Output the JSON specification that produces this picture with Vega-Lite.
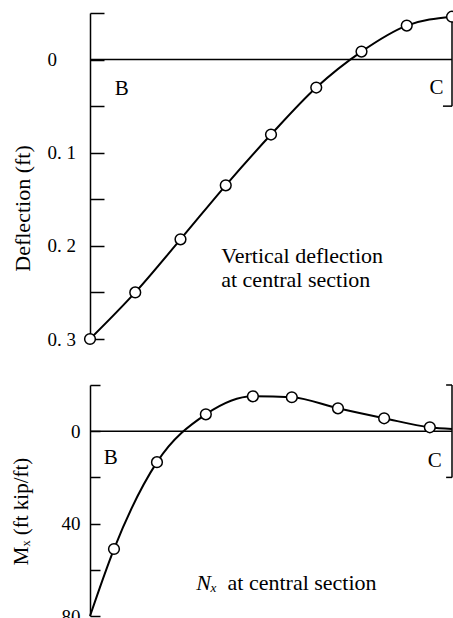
{
  "$schema": "https://vega.github.io/schema/vega-lite/v6.json",
  "background": "white",
  "padding": {"left": 9, "top": 4, "right": -6, "bottom": 0},
  "bounds": "flush",
  "spacing": 46,
  "config": {"view": {"stroke": null}, "font": "Liberation Serif"},
  "datasets": {
    "deflection": [
      {"x": 0, "y": 0.3},
      {"x": 1, "y": 0.25},
      {"x": 2, "y": 0.193},
      {"x": 3, "y": 0.135},
      {"x": 4, "y": 0.0805},
      {"x": 5, "y": 0.03},
      {"x": 6, "y": -0.0086},
      {"x": 7, "y": -0.0365},
      {"x": 8, "y": -0.046}
    ],
    "moment": [
      {"x": 0, "y": 80},
      {"x": 0.53, "y": 51},
      {"x": 1.48, "y": 13.4},
      {"x": 2.56, "y": -7.3},
      {"x": 3.6, "y": -15.1},
      {"x": 4.46, "y": -14.7},
      {"x": 5.48, "y": -9.9},
      {"x": 6.5, "y": -5.6},
      {"x": 7.51, "y": -1.7},
      {"x": 8, "y": -0.9}
    ]
  },
  "vconcat": [
    {
      "width": 362,
      "height": 326,
      "layer": [
        {
          "data": {"values": [{}]},
          "mark": {"type": "rule", "color": "black", "strokeWidth": 1.5},
          "encoding": {"y": {"datum": 0, "type": "quantitative"}}
        },
        {
          "data": {"values": [{}]},
          "mark": {"type": "rule", "color": "black", "strokeWidth": 1.5},
          "encoding": {
            "x": {"datum": 8, "type": "quantitative", "axis": null},
            "y": {"datum": -0.05, "type": "quantitative"},
            "y2": {"datum": 0.05}
          }
        },
        {
          "data": {"values": [{}]},
          "mark": {"type": "rule", "color": "black", "strokeWidth": 1.5},
          "encoding": {
            "x": {"datum": 7.8, "type": "quantitative", "axis": null},
            "x2": {"datum": 8},
            "y": {"datum": 0.05, "type": "quantitative"}
          }
        },
        {
          "data": {"name": "deflection"},
          "mark": {"type": "line", "color": "black", "strokeWidth": 2, "interpolate": "monotone"},
          "encoding": {
            "x": {"field": "x", "type": "quantitative", "scale": {"domain": [0, 8], "nice": false, "zero": false}, "axis": null},
            "y": {
              "field": "y",
              "type": "quantitative",
              "scale": {"domain": [-0.05, 0.3], "reverse": true, "nice": false, "zero": false},
              "axis": {
                "title": "Deflection  (ft)",
                "values": [-0.05, 0, 0.05, 0.1, 0.15, 0.2, 0.25, 0.3],
                "labelExpr": "datum.value === 0 ? '0' : ((datum.value > 0 && abs(datum.value * 10 - round(datum.value * 10)) < 0.001) ? replace(format(datum.value, '.1f'), '.', '. ') : '')",
                "grid": false,
                "domainColor": "black",
                "domainWidth": 1.5,
                "tickColor": "black",
                "tickWidth": 1.5,
                "tickSize": -14,
                "labelAlign": "left",
                "labelPadding": 57,
                "labelFont": "Liberation Serif",
                "labelFontSize": 19,
                "labelColor": "black",
                "labelBaseline": "middle",
                "labelFlush": false,
                "labelOverlap": false,
                "titleFont": "Liberation Serif",
                "titleFontSize": 22,
                "titleFontWeight": "normal",
                "titleColor": "black",
                "titleX": -68,
                "titleY": 195,
                "titleBaseline": "middle"
              }
            }
          }
        },
        {
          "data": {"name": "deflection"},
          "mark": {"type": "point", "shape": "circle", "filled": true, "fill": "white", "stroke": "black", "strokeWidth": 1.5, "size": 115, "opacity": 1},
          "encoding": {
            "x": {"field": "x", "type": "quantitative", "axis": null},
            "y": {"field": "y", "type": "quantitative"}
          }
        },
        {
          "data": {"values": [{"label": "B", "x": 0.7, "y": 0.0317}, {"label": "C", "x": 7.66, "y": 0.0306}]},
          "mark": {"type": "text", "font": "Liberation Serif", "fontSize": 21, "color": "black", "baseline": "middle"},
          "encoding": {
            "x": {"field": "x", "type": "quantitative", "axis": null},
            "y": {"field": "y", "type": "quantitative"},
            "text": {"field": "label"}
          }
        },
        {
          "data": {"values": [{"x": 2.9, "y": 0.211}]},
          "mark": {"type": "text", "font": "Liberation Serif", "fontSize": 22, "color": "black", "align": "left", "baseline": "middle", "lineHeight": 24, "text": ["Vertical deflection", "at central section"]},
          "encoding": {
            "x": {"field": "x", "type": "quantitative", "axis": null},
            "y": {"field": "y", "type": "quantitative"}
          }
        }
      ]
    },
    {
      "width": 362,
      "height": 231,
      "layer": [
        {
          "data": {"values": [{}]},
          "mark": {"type": "rule", "color": "black", "strokeWidth": 1.5},
          "encoding": {"y": {"datum": 0, "type": "quantitative"}}
        },
        {
          "data": {"values": [{}]},
          "mark": {"type": "rule", "color": "black", "strokeWidth": 1.5},
          "encoding": {
            "x": {"datum": 8, "type": "quantitative", "axis": null},
            "y": {"datum": -20, "type": "quantitative"},
            "y2": {"datum": 20}
          }
        },
        {
          "data": {"values": [{}]},
          "mark": {"type": "rule", "color": "black", "strokeWidth": 1.5},
          "encoding": {
            "x": {"datum": 7.87, "type": "quantitative", "axis": null},
            "x2": {"datum": 8},
            "y": {"datum": 20, "type": "quantitative"}
          }
        },
        {
          "data": {"values": [{}]},
          "mark": {"type": "rule", "color": "black", "strokeWidth": 1.5},
          "encoding": {
            "x": {"datum": 7.87, "type": "quantitative", "axis": null},
            "x2": {"datum": 8},
            "y": {"datum": -20, "type": "quantitative"}
          }
        },
        {
          "data": {"name": "moment"},
          "mark": {"type": "line", "color": "black", "strokeWidth": 2, "interpolate": "monotone"},
          "encoding": {
            "x": {"field": "x", "type": "quantitative", "scale": {"domain": [0, 8], "nice": false, "zero": false}, "axis": null},
            "y": {
              "field": "y",
              "type": "quantitative",
              "scale": {"domain": [-20, 80], "reverse": true, "nice": false, "zero": false},
              "axis": {
                "title": "Mₓ  (ft kip/ft)",
                "values": [-20, 0, 20, 40, 60, 80],
                "labelExpr": "(datum.value === 0 || datum.value === 40 || datum.value === 80) ? datum.label : ''",
                "grid": false,
                "domainColor": "black",
                "domainWidth": 1.5,
                "tickColor": "black",
                "tickWidth": 1.5,
                "tickSize": -10,
                "labelAlign": "right",
                "labelPadding": 20,
                "labelFont": "Liberation Serif",
                "labelFontSize": 19,
                "labelColor": "black",
                "labelBaseline": "middle",
                "labelFlush": false,
                "labelOverlap": false,
                "titleFont": "Liberation Serif",
                "titleFontSize": 21,
                "titleFontWeight": "normal",
                "titleColor": "black",
                "titleX": -69,
                "titleY": 126,
                "titleBaseline": "middle"
              }
            }
          }
        },
        {
          "data": {"name": "moment"},
          "transform": [{"filter": "datum.x > 0 && datum.x < 8"}],
          "mark": {"type": "point", "shape": "circle", "filled": true, "fill": "white", "stroke": "black", "strokeWidth": 1.5, "size": 115, "opacity": 1},
          "encoding": {
            "x": {"field": "x", "type": "quantitative", "axis": null},
            "y": {"field": "y", "type": "quantitative"}
          }
        },
        {
          "data": {"values": [{"label": "B", "x": 0.46, "y": 11.4}, {"label": "C", "x": 7.62, "y": 12.7}]},
          "mark": {"type": "text", "font": "Liberation Serif", "fontSize": 21, "color": "black", "baseline": "middle"},
          "encoding": {
            "x": {"field": "x", "type": "quantitative", "axis": null},
            "y": {"field": "y", "type": "quantitative"},
            "text": {"field": "label"}
          }
        },
        {
          "data": {"values": [{"x": 2.81, "y": 65.7}]},
          "mark": {"type": "text", "font": "Liberation Serif", "fontSize": 22, "fontStyle": "italic", "color": "black", "align": "right", "baseline": "middle", "text": "Nₓ"},
          "encoding": {
            "x": {"field": "x", "type": "quantitative", "axis": null},
            "y": {"field": "y", "type": "quantitative"}
          }
        },
        {
          "data": {"values": [{"x": 3.04, "y": 65.7}]},
          "mark": {"type": "text", "font": "Liberation Serif", "fontSize": 22, "color": "black", "align": "left", "baseline": "middle", "text": "at central section"},
          "encoding": {
            "x": {"field": "x", "type": "quantitative", "axis": null},
            "y": {"field": "y", "type": "quantitative"}
          }
        }
      ]
    }
  ]
}
